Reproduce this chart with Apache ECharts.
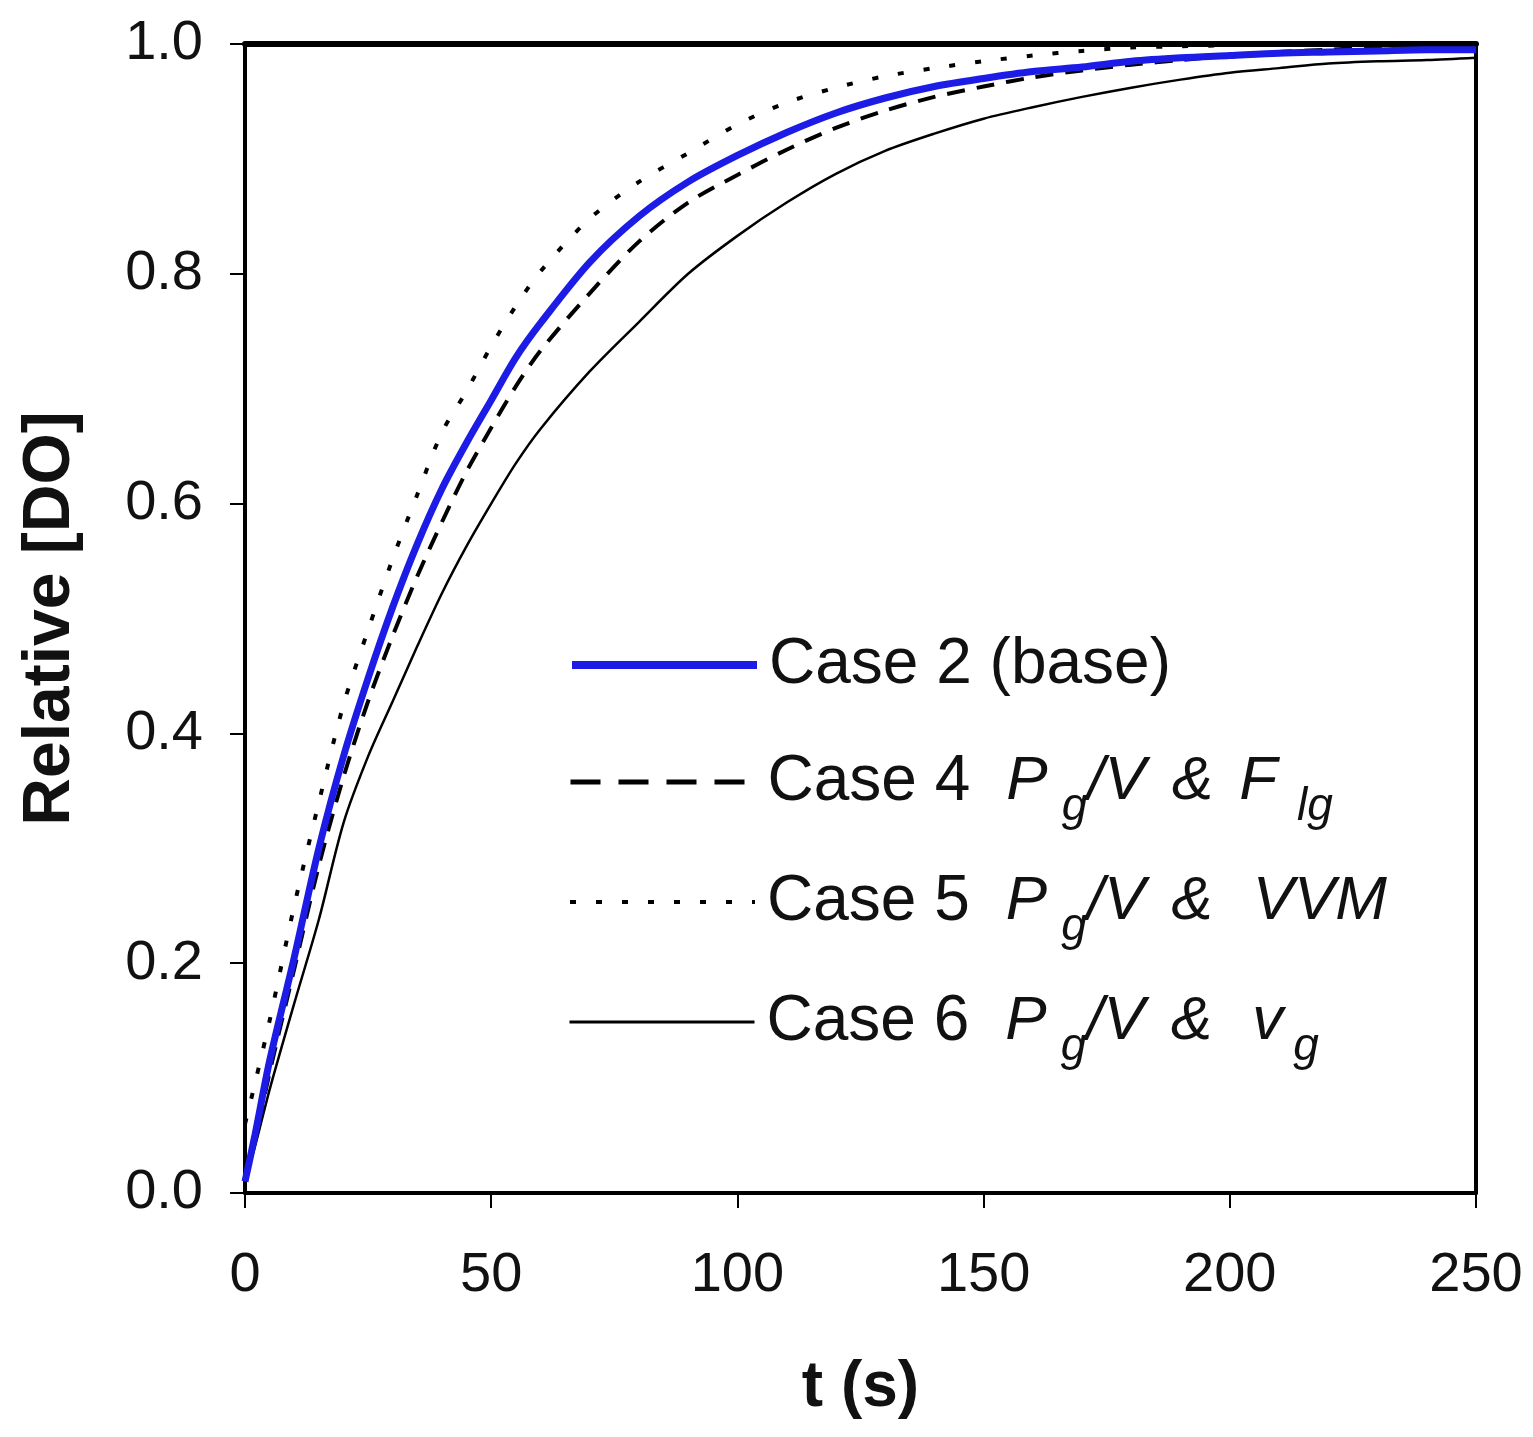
<!DOCTYPE html>
<html>
<head>
<meta charset="utf-8">
<script src="https://cdn.jsdelivr.net/npm/echarts@6/dist/echarts.min.js"></script>
<style>
html,body{margin:0;padding:0;background:#fff;}
#chart{width:1533px;height:1437px;}
</style>
</head>
<body>
<div id="chart"></div>
<script>
// time (s)
const tValues = [0,2,5,10,15,20,25,30,35,40,45,50,55,60,70,80,90,100,110,120,130,140,150,160,170,180,190,200,210,220,230,240,250];
// Case 2 (base) - blue thick
const case2 = [0.01,0.05,0.115,0.205,0.30,0.38,0.448,0.51,0.565,0.613,0.653,0.69,0.727,0.757,0.81,0.85,0.88,0.903,0.923,0.94,0.953,0.963,0.97,0.976,0.98,0.985,0.988,0.99,0.992,0.993,0.994,0.995,0.995];
// Case 4 - dashed
const case4 = [0.01,0.045,0.105,0.195,0.285,0.362,0.428,0.485,0.537,0.584,0.628,0.666,0.702,0.733,0.783,0.828,0.862,0.886,0.908,0.927,0.942,0.954,0.963,0.971,0.977,0.982,0.986,0.99,0.993,0.995,0.997,0.998,0.998];
// Case 5 - dotted
const case5 = [0.06,0.095,0.15,0.25,0.34,0.425,0.49,0.552,0.608,0.662,0.698,0.737,0.772,0.802,0.848,0.88,0.905,0.93,0.949,0.962,0.972,0.979,0.985,0.99,0.994,0.997,0.998,0.999,1.0,1.0,1.0,1.0,1.0];
// Case 6 - thin solid
const case6 = [0.01,0.04,0.09,0.165,0.238,0.322,0.38,0.428,0.476,0.522,0.563,0.60,0.635,0.665,0.715,0.758,0.80,0.833,0.862,0.887,0.907,0.922,0.935,0.945,0.954,0.962,0.969,0.975,0.979,0.983,0.985,0.986,0.988];

const xTicks = [0,50,100,150,200,250];
const yTicks = [0,0.2,0.4,0.6,0.8,1.0];
const seriesNames = ['Case 2 (base)','Case 4','Case 5','Case 6'];

function pairs(vals){ return tValues.map((t,i)=>[t, vals[i]]); }

const FONT = "'Liberation Sans', Arial, Helvetica, sans-serif";
const C = '#111';
function it(padLeft){ return {fontSize: 62, fontFamily: FONT, color: C, fontStyle: 'italic', lineHeight: 64, padding: [0,0,0,padLeft]}; }
function sub(padLeft){ return {fontSize: 46, fontFamily: FONT, color: C, fontStyle: 'italic', lineHeight: 48, padding: [50,0,0,padLeft]}; }
const rich = {
  n: {fontSize: 64, fontFamily: FONT, color: C, lineHeight: 64, padding: [0,0,0,7]},
  p: it(36), i: it(0), a: it(26), f: it(26), w: it(40),
  s1: sub(14), s2: sub(20), s3: sub(10)
};
const legendText = {
  'Case 2 (base)': '{n|Case 2 (base)}',
  'Case 4': '{n|Case 4}{p|P}{s1|g}{i|/V}{a|&}{f|F}{s2|lg}',
  'Case 5': '{n|Case 5}{p|P}{s1|g}{i|/V}{a|&}{w|VVM}',
  'Case 6': '{n|Case 6}{p|P}{s1|g}{i|/V}{a|&}{w|v}{s3|g}'
};
const legendTops = [633, 734, 854, 974];
const legendLines = [
  {color: '#1c1ce6', width: 8, type: 'solid'},
  {color: '#000', width: 5, type: [30, 18]},
  {color: '#000', width: 4, type: [6, 20]},
  {color: '#000', width: 3, type: 'solid'}
];

const legends = seriesNames.map((nm, k) => ({
  show: true,
  data: [nm],
  left: 568,
  top: legendTops[k],
  padding: 0,
  orient: 'vertical',
  itemWidth: 185,
  itemHeight: 20,
  formatter: (name) => legendText[name],
  textStyle: {rich: rich, fontSize: 64, fontFamily: FONT, color: C},
  lineStyle: legendLines[k],
  itemStyle: {color: 'rgba(0,0,0,0)', borderWidth: 0, opacity: 0},
  selectedMode: false
}));

const chart = echarts.init(document.getElementById('chart'), null, {renderer: 'canvas'});
chart.setOption({
  backgroundColor: '#fff',
  animation: false,
  grid: {left: 245, right: 57, top: 44, bottom: 244, containLabel: false},
  legend: legends,
  xAxis: [{
    type: 'value', min: 0, max: 250, interval: 50,
    axisLine: {show: true, onZero: false, lineStyle: {color: '#000', width: 4}},
    axisTick: {show: true, inside: false, length: 15, lineStyle: {color: '#000', width: 2}},
    axisLabel: {fontSize: 56, fontFamily: FONT, color: C, margin: 55,
      formatter: v => xTicks.includes(v) ? String(v) : ''},
    splitLine: {show: false},
    name: 't (s)', nameLocation: 'middle', nameGap: 163,
    nameTextStyle: {fontSize: 64, fontWeight: 'bold', fontFamily: FONT, color: C}
  }, {
    type: 'value', min: 0, max: 250, position: 'top',
    axisLine: {show: true, onZero: false, lineStyle: {color: '#000', width: 6}},
    axisTick: {show: false}, axisLabel: {show: false}, splitLine: {show: false}
  }],
  yAxis: [{
    type: 'value', min: 0, max: 1, interval: 0.2,
    axisLine: {show: true, onZero: false, lineStyle: {color: '#000', width: 4}},
    axisTick: {show: true, inside: false, length: 15, lineStyle: {color: '#000', width: 2}},
    axisLabel: {fontSize: 56, fontFamily: FONT, color: C, margin: 42,
      formatter: v => yTicks.some(y => Math.abs(y - v) < 1e-9) ? v.toFixed(1) : ''},
    splitLine: {show: false},
    name: 'Relative [DO]', nameLocation: 'middle', nameGap: 161,
    nameTextStyle: {fontSize: 66, fontWeight: 'bold', fontFamily: FONT, color: C}
  }, {
    type: 'value', min: 0, max: 1, position: 'right',
    axisLine: {show: true, onZero: false, lineStyle: {color: '#000', width: 4}},
    axisTick: {show: false}, axisLabel: {show: false}, splitLine: {show: false}
  }],
  series: [
    {name: 'Case 6', type: 'line', data: pairs(case6), symbol: 'none', smooth: 0.3,
      lineStyle: {color: '#000', width: 2.5, type: 'solid'}, itemStyle: {color: '#000'}, z: 2},
    {name: 'Case 5', type: 'line', data: pairs(case5), symbol: 'none', smooth: 0.3,
      lineStyle: {color: '#000', width: 4, type: [6, 20]}, itemStyle: {color: '#000'}, z: 3},
    {name: 'Case 4', type: 'line', data: pairs(case4), symbol: 'none', smooth: 0.3,
      lineStyle: {color: '#000', width: 4, type: [18, 12]}, itemStyle: {color: '#000'}, z: 4},
    {name: 'Case 2 (base)', type: 'line', data: pairs(case2), symbol: 'none', smooth: 0.3,
      lineStyle: {color: '#1c1ce6', width: 7, type: 'solid'}, itemStyle: {color: '#1c1ce6'}, z: 5}
  ]
});
</script>
</body>
</html>
